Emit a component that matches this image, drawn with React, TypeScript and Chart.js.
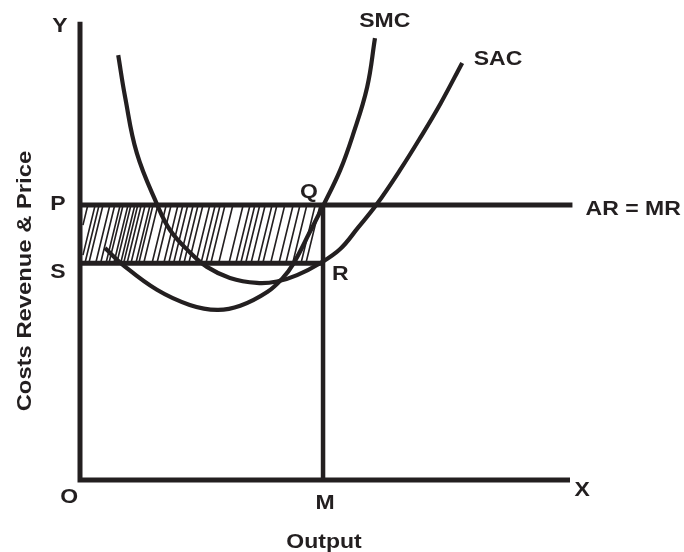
import React, { useEffect, useRef } from "react";
import { Chart, registerables } from "chart.js";

Chart.register(...registerables);

// ---- data (economic units: output on x, cost/revenue/price on y) ----
const SAC_X = [0.78, 0.92, 1.16, 1.57, 1.84, 2.24, 2.59, 3.06, 3.61, 4.02, 4.43, 4.9, 5.31, 5.67, 6.06, 6.53, 6.94, 7.35, 7.8];
const SAC_Y = [9.27, 8.36, 7.13, 6.02, 5.45, 4.97, 4.65, 4.41, 4.3, 4.33, 4.47, 4.73, 5.04, 5.5, 6.02, 6.76, 7.46, 8.2, 9.1];

const SMC_X = [0.51, 0.88, 1.57, 2.24, 2.8, 3.27, 3.82, 4.14, 4.35, 4.69, 4.97, 5.31, 5.57, 5.86, 6.02];
const SMC_Y = [5.06, 4.69, 4.15, 3.82, 3.71, 3.8, 4.1, 4.41, 4.71, 5.41, 6.0, 6.76, 7.53, 8.57, 9.64];

const PRICE_P = 6.0; // AR = MR
const COST_S = 4.73; // SAC at output M
const OUTPUT_M = 4.96;
const AXIS_X_END = 10;
const AXIS_Y_END = 10;
const AR_END = 10.05;

// top ends of the hatch strokes inside the PQRS rectangle
const HATCH_TOPS = [0.16, 0.31, 0.39, 0.47, 0.61, 0.71, 0.82, 0.88, 0.98, 1.04, 1.12, 1.18, 1.25, 1.33, 1.43, 1.49, 1.59, 1.76, 1.86, 2.0, 2.1, 2.2, 2.31, 2.41, 2.51, 2.65, 2.76, 2.86, 2.96, 3.12, 3.33, 3.47, 3.57, 3.67, 3.78, 3.92, 4.02, 4.18, 4.35, 4.49, 4.63, 4.8, 4.9];
const HATCH_SLANT = 0.29;
const HATCH_LEFT = 0.06;

const LABEL_TEXT = ["Y", "P", "S", "O", "M", "X", "Q", "R", "SMC", "SAC", "AR = MR", "Output"];
const LABEL_X = [-0.41, -0.45, -0.45, -0.22, 5.0, 10.25, 4.67, 5.31, 6.22, 8.53, 11.29, 4.98];
const LABEL_Y = [9.93, 6.04, 4.56, -0.35, -0.48, -0.2, 6.31, 4.52, 10.04, 9.21, 5.93, -1.33];
const Y_TITLE = "Costs Revenue & Price";
const Y_TITLE_POS = [-1.14, 4.34];

const INK = "#231f20";

function pts(xs: number[], ys: number[]) {
  return xs.map((x, i) => ({ x, y: ys[i] }));
}

function hatchPoints() {
  const out: { x: number; y: number | null }[] = [];
  const h = PRICE_P - COST_S;
  HATCH_TOPS.forEach((tx) => {
    let bx = tx - HATCH_SLANT;
    let by = COST_S;
    if (bx < HATCH_LEFT) {
      by = COST_S + ((HATCH_LEFT - bx) / HATCH_SLANT) * h;
      bx = HATCH_LEFT;
    }
    out.push({ x: bx, y: by });
    out.push({ x: tx, y: PRICE_P });
    out.push({ x: tx, y: null });
  });
  return out;
}

const labelPlugin = {
  id: "econLabels",
  afterDatasetsDraw(chart: any) {
    const { ctx, scales } = chart;
    const sx = scales.x;
    const sy = scales.y;
    const size = 19.5;
    const stretch = 1.18;
    ctx.save();
    ctx.fillStyle = INK;
    ctx.font = `bold ${size}px "Liberation Sans", Arial, sans-serif`;
    ctx.textAlign = "center";
    ctx.textBaseline = "alphabetic";
    LABEL_TEXT.forEach((t, i) => {
      const px = sx.getPixelForValue(LABEL_X[i]);
      const py = sy.getPixelForValue(LABEL_Y[i]);
      ctx.save();
      ctx.translate(px, py + size * 0.358);
      ctx.scale(stretch, 1);
      ctx.fillText(t, 0, 0);
      ctx.restore();
    });
    const tx = sx.getPixelForValue(Y_TITLE_POS[0]);
    const ty = sy.getPixelForValue(Y_TITLE_POS[1]);
    ctx.save();
    ctx.translate(tx, ty);
    ctx.rotate(-Math.PI / 2);
    ctx.scale(1.22, 1);
    ctx.fillText(Y_TITLE, 0, size * 0.358);
    ctx.restore();
    ctx.restore();
  },
};

export default function App() {
  const ref = useRef<HTMLCanvasElement | null>(null);
  useEffect(() => {
    if (!ref.current) return;
    const line = (data: any[], width: number, extra: any = {}) => ({
      data,
      showLine: true,
      borderColor: INK,
      backgroundColor: INK,
      borderWidth: width,
      pointRadius: 0,
      pointHoverRadius: 0,
      fill: false,
      clip: false,
      tension: 0,
      borderCapStyle: "butt",
      borderJoinStyle: "miter",
      ...extra,
    });
    const chart = new Chart(ref.current, {
      type: "scatter",
      data: {
        datasets: [
          line(pts(SAC_X, SAC_Y), 4.2, { tension: 0.4, label: "SAC" }),
          line(pts(SMC_X, SMC_Y), 4.2, { tension: 0.4, label: "SMC" }),
          line([{ x: 0, y: AXIS_Y_END }, { x: 0, y: 0 }, { x: AXIS_X_END, y: 0 }], 5, { label: "axes" }),
          line([{ x: 0, y: PRICE_P }, { x: AR_END, y: PRICE_P }], 5, { label: "AR = MR" }),
          line([{ x: 0, y: COST_S }, { x: OUTPUT_M, y: COST_S }], 5, { label: "S" }),
          line([{ x: OUTPUT_M, y: PRICE_P }, { x: OUTPUT_M, y: 0 }], 4.5, { label: "M" }),
          line(hatchPoints(), 1.6, { spanGaps: false, label: "hatch" }),
        ],
      },
      options: {
        animation: false,
        responsive: false,
        events: [],
        layout: { padding: { left: 80, right: 0, top: 0, bottom: 72 } },
        plugins: { legend: { display: false }, tooltip: { enabled: false }, title: { display: false } },
        scales: {
          x: { type: "linear", display: false, min: 0, max: 604 / 49 },
          y: { type: "linear", display: false, min: 0, max: 480 / 45.833 },
        },
      },
      plugins: [labelPlugin],
    } as any);
    return () => chart.destroy();
  }, []);
  return (
    <div style={{ position: "fixed", left: 0, top: 0, width: 684, height: 552, background: "#fff" }}>
      <canvas ref={ref} width={684} height={552} style={{ width: 684, height: 552 }} />
    </div>
  );
}
